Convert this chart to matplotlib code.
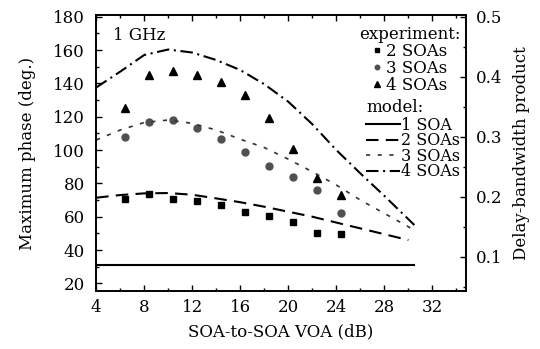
import matplotlib
matplotlib.use("Agg")
import matplotlib.pyplot as plt
from matplotlib.ticker import MultipleLocator

plt.rcParams['font.family'] = ['DejaVu Serif']
plt.rcParams['mathtext.fontset'] = 'dejavuserif'

# experiment points
x_exp = [6.4, 8.4, 10.4, 12.4, 14.4, 16.4, 18.4, 20.4, 22.4, 24.4]
exp_2soa = [70.6, 73.4, 70.6, 69.6, 67.0, 63.0, 60.6, 56.6, 50.0, 49.6]
exp_3soa = [108.0, 117.0, 118.0, 113.0, 106.4, 98.6, 90.6, 83.6, 76.0, 62.0]
exp_4soa = [125.0, 145.0, 147.4, 145.0, 141.0, 133.0, 119.4, 100.6, 83.0, 73.0]

# model curves
x_model = [4, 6, 8, 10, 12, 14, 16, 18, 20, 22, 24, 26, 28, 30, 30.5]
mod_1soa = [30.8] * len(x_model)
mod_2soa = [71.4, 73.0, 74.0, 74.2, 73.2, 71.0, 68.7, 66.0, 63.0, 60.0, 56.5, 53.0, 49.5, 46.0]
mod_3soa = [106.0, 112.0, 116.5, 118.0, 116.0, 112.0, 106.5, 101.5, 94.5, 87.0, 79.0, 70.0, 62.0, 54.0, 51.5]
mod_4soa = [137.5, 147.0, 157.0, 160.3, 158.5, 154.0, 148.0, 139.5, 129.0, 115.5, 100.0, 86.0, 72.5, 58.5, 55.0]

fig = plt.figure(figsize=(5.4, 3.49), dpi=100)
ax = fig.add_axes([0.178, 0.166, 0.685, 0.791])

l2 = ax.plot(x_exp, exp_2soa, 's', color='black', ms=5, label='2 SOAs')[0]
l3 = ax.plot(x_exp, exp_3soa, 'o', color='#505050', ms=5, label='3 SOAs')[0]
l4 = ax.plot(x_exp, exp_4soa, '^', color='black', ms=6, label='4 SOAs')[0]

m1 = ax.plot(x_model, mod_1soa, '-', color='black', lw=1.5, label='1 SOA')[0]
m2 = ax.plot(x_model[:len(mod_2soa)], mod_2soa, color='black', lw=1.5,
             dashes=(6, 3.5), label='2 SOAs')[0]
m3 = ax.plot(x_model, mod_3soa, color='#333333', lw=1.2, dashes=(2.5, 4.5), label='3 SOAs')[0]
m4 = ax.plot(x_model, mod_4soa, color='black', lw=1.5, dashes=(6, 2.2, 1, 2.2), label='4 SOAs')[0]

ax.set_xlim(4, 34.8)
ax.set_ylim(15.4, 181)
ax.xaxis.set_major_locator(MultipleLocator(4))
ax.xaxis.set_minor_locator(MultipleLocator(2))
ax.yaxis.set_major_locator(MultipleLocator(20))
ax.yaxis.set_minor_locator(MultipleLocator(10))
ax.tick_params(which='both', direction='in', top=True, right=False, labelsize=12)
ax.tick_params(axis='y', pad=8)
ax.tick_params(axis='x', pad=6)
ax.tick_params(which='major', length=4.5, width=1)
ax.tick_params(which='minor', length=2.5, width=1)
ax.set_xlabel('SOA-to-SOA VOA (dB)', fontsize=12, labelpad=5)
ax.set_ylabel('Maximum phase (deg.)', fontsize=12, labelpad=12)

ax2 = ax.twinx()
lo, hi = ax.get_ylim()
ax2.set_ylim(lo / 360, hi / 360)
ax2.yaxis.set_major_locator(MultipleLocator(0.1))
ax2.yaxis.set_minor_locator(MultipleLocator(0.05))
ax2.tick_params(which='both', direction='in', labelsize=12, pad=7)
ax2.tick_params(which='major', length=4.5, width=1)
ax2.tick_params(which='minor', length=2.5, width=1)
ax2.set_ylabel('Delay-bandwidth product', fontsize=12, labelpad=8)
for a in (ax, ax2):
    for s in a.spines.values():
        s.set_linewidth(1.2)

ax.text(0.046, 0.925, '1 GHz', transform=ax.transAxes, fontsize=12, va='center')

leg1 = ax2.legend(handles=[l2, l3, l4], title='experiment:', loc='upper right',
                  bbox_to_anchor=(0.985, 0.96), frameon=False, fontsize=12,
                  title_fontsize=12, alignment='center', handlelength=0.5,
                  handletextpad=0.3, labelspacing=0.0, markerscale=0.65,
                  borderpad=0.0, borderaxespad=0.0)
leg1._legend_box.sep = 0
ax2.add_artist(leg1)
leg2 = ax2.legend(handles=[m1, m2, m3, m4], title='model:', loc='upper right',
                  bbox_to_anchor=(0.985, 0.697), frameon=False, fontsize=11.5,
                  title_fontsize=12, alignment='left', handlelength=2.1,
                  handletextpad=0.1, labelspacing=-0.1, borderpad=0.0,
                  borderaxespad=0.0)
leg2._legend_box.sep = 1

fig.savefig('out.png', dpi=100)
